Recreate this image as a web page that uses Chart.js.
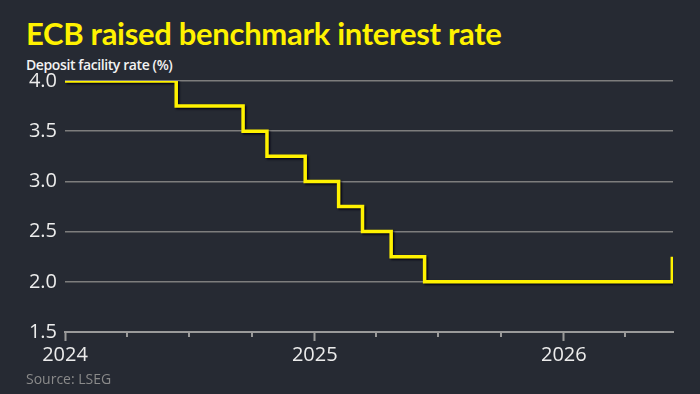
<!DOCTYPE html>
<html>
<head>
<meta charset="utf-8">
<script src="https://cdn.jsdelivr.net/npm/chart.js@4.4.1/dist/chart.umd.min.js"></script>
<style>
  body { margin: 0; background: #262a33; }
  .wrap { position: relative; width: 700px; height: 394px; background: #262a33; overflow: hidden; font-family: "Open Sans", sans-serif; }
  .title { position: absolute; left: 26px; top: 14px; color: #fff200; font-family: Lato, sans-serif; font-size: 31px; font-weight: 700; letter-spacing: -0.3px; white-space: nowrap; }
  .sub { position: absolute; left: 26px; top: 55px; color: #f2f2f2; font-size: 14px; font-weight: 600; letter-spacing: -0.4px; }
  .source { position: absolute; left: 26px; top: 369px; color: #8a8a8a; font-size: 14px; }
  canvas { position: absolute; left: 0; top: 0; }
</style>
</head>
<body>
<div class="wrap">
  <div class="title">ECB raised benchmark interest rate</div>
  <div class="sub">Deposit facility rate (%)</div>
  <canvas id="myChart" width="700" height="394"></canvas>
  <div class="source">Source: LSEG</div>
</div>
<script>
// deposit facility rate, value takes effect from each date
var rateDates = ['2024-01-01', '2024-06-12', '2024-09-18', '2024-10-23', '2024-12-18',
                 '2025-02-05', '2025-03-12', '2025-04-23', '2025-06-11', '2026-06-09'];
var rateValues = [4.0, 3.75, 3.5, 3.25, 3.0, 2.75, 2.5, 2.25, 2.0, 2.25];
var yTicks = [1.5, 2.0, 2.5, 3.0, 3.5, 4.0];
var yearLabels = ['2024', '2025', '2026'];
var axisStart = '2024-01-01';
var axisEnd = '2026-06-10';

function ts(d) { return Date.parse(d + 'T00:00:00Z'); }

var points = [];
for (var i = 0; i < rateDates.length; i++) {
    points.push({ x: ts(rateDates[i]), y: rateValues[i] });
}

// quarter starts for the x ticks
var quarterTicks = [];
for (var y = 2024; y <= 2026; y++) {
    for (var m = 0; m < 12; m += 3) {
        var t = Date.UTC(y, m, 1);
        if (t <= ts(axisEnd)) quarterTicks.push(t);
    }
}

function isYearStart(v) {
    var d = new Date(v);
    return d.getUTCMonth() === 0 && d.getUTCDate() === 1;
}

var minorTicks = {
    id: 'minorTicks',
    afterDraw: function (chart) {
        var sx = chart.scales.x;
        var ctx = chart.ctx;
        ctx.save();
        ctx.strokeStyle = '#9a9a9a';
        ctx.lineWidth = 2;
        quarterTicks.forEach(function (t) {
            if (isYearStart(t)) return;
            var px = Math.round(sx.getPixelForValue(t));
            ctx.beginPath();
            ctx.moveTo(px, sx.top);
            ctx.lineTo(px, sx.top + 5);
            ctx.stroke();
        });
        ctx.restore();
    }
};

var lineShadow = {
    id: 'lineShadow',
    beforeDatasetsDraw: function (chart) {
        var ctx = chart.ctx;
        ctx.save();
        ctx.shadowColor = 'rgba(0, 0, 20, 0.9)';
        ctx.shadowBlur = 2;
        ctx.shadowOffsetX = 1.5;
        ctx.shadowOffsetY = 1.5;
    },
    afterDatasetsDraw: function (chart) {
        chart.ctx.restore();
    }
};

var ctx = document.getElementById('myChart').getContext('2d');

var chart = new Chart(ctx, {
    type: 'line',
    data: {
        datasets: [{
            data: points,
            borderColor: '#fff200',
            borderWidth: 3.5,
            stepped: true,
            pointRadius: 0,
            fill: false
        }]
    },
    options: {
        responsive: false,
        animation: false,
        events: [],
        layout: { padding: { left: 26, right: 27, top: 81, bottom: 32 } },
        plugins: { legend: { display: false }, tooltip: { enabled: false } },
        scales: {
            x: {
                type: 'linear',
                min: ts(axisStart),
                max: ts(axisEnd),
                afterBuildTicks: function (scale) {
                    scale.ticks = quarterTicks.map(function (t) { return { value: t }; });
                },
                afterFit: function (scale) { scale.height = 30; },
                ticks: {
                    autoSkip: false,
                    maxRotation: 0,
                    padding: 2,
                    color: '#ececec',
                    font: { family: 'Open Sans', size: 20 },
                    callback: function (v) {
                        if (!isYearStart(v)) return '';
                        var yr = String(new Date(v).getUTCFullYear());
                        return yearLabels.indexOf(yr) >= 0 ? yr : '';
                    }
                },
                grid: {
                    drawOnChartArea: false,
                    tickLength: 9,
                    tickWidth: 2,
                    tickColor: function (c) {
                        return c.tick && isYearStart(c.tick.value) ? '#9a9a9a' : 'rgba(0,0,0,0)';
                    }
                },
                border: { display: true, color: '#9a9a9a', width: 2 }
            },
            y: {
                min: 1.5,
                max: 4.0,
                afterBuildTicks: function (scale) {
                    scale.ticks = yTicks.map(function (v) { return { value: v }; });
                },
                afterFit: function (scale) { scale.width = 39; },
                ticks: {
                    padding: 8,
                    color: '#ececec',
                    font: { family: 'Open Sans', size: 20 },
                    callback: function (v) { return v.toFixed(1); }
                },
                grid: { color: '#7d7d7d', lineWidth: 1.5, drawTicks: false },
                border: { display: false }
            }
        }
    },
    plugins: [lineShadow, minorTicks]
});
</script>
</body>
</html>
